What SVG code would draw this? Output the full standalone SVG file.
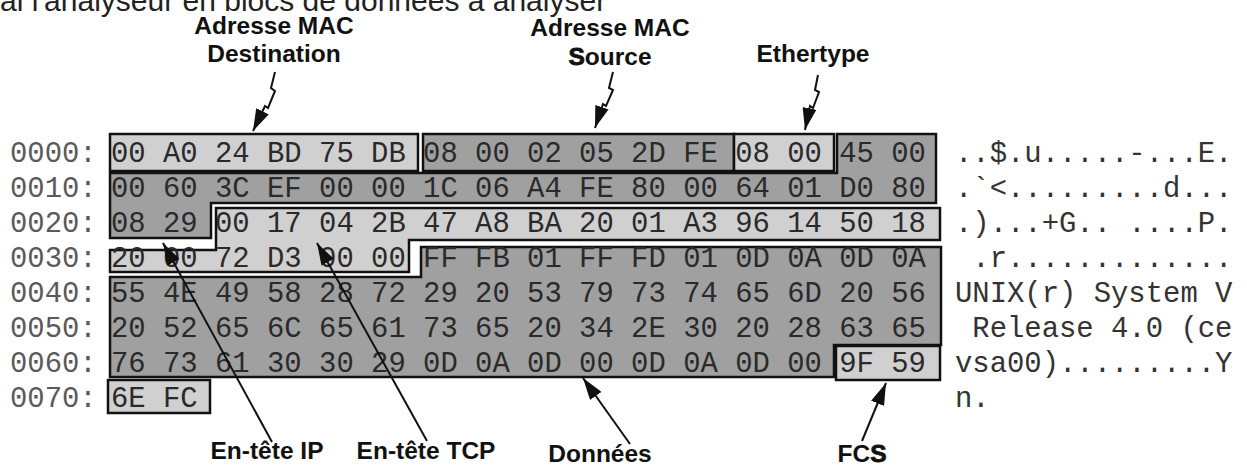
<svg xmlns="http://www.w3.org/2000/svg" width="1247" height="466" viewBox="0 0 1247 466">
<style>
.hex{font-family:"Liberation Mono","Courier New",monospace;font-size:28.9px;fill:#2a2a2a;white-space:pre}
.off{font-family:"Liberation Mono","Courier New",monospace;font-size:28.9px;fill:#5a5a5a;white-space:pre}
.asc{font-family:"Liberation Mono","Courier New",monospace;font-size:28.9px;fill:#333;white-space:pre}
.lbl{font-family:"Liberation Sans",Arial,sans-serif;font-size:24.5px;font-weight:bold;fill:#111;text-anchor:middle}
.lt{fill:#d0d0d0;stroke:#111;stroke-width:2.5}
.dk{fill:#a0a0a0;stroke:#111;stroke-width:2.5}
.arr{fill:none;stroke:#111;stroke-width:2;marker-end:url(#ah)}
</style>
<defs>
<marker id="ah" viewBox="0 0 22 14" refX="22" refY="7" markerWidth="22" markerHeight="14" markerUnits="userSpaceOnUse" orient="auto">
<path d="M0,0 L22,7 L0,14 Z" fill="#111"/>
</marker>
</defs>
<rect width="1247" height="466" fill="#fff"/>
<text x="0" y="11" style="font-family:'Liberation Sans',Arial,sans-serif;font-size:30px;fill:#222">al l'analyseur en blocs de données à analyser</text>

<g id="mac-dest">
<rect class="lt" x="110" y="134" width="308" height="37"/>
<text class="lbl" x="274" y="34">Adresse MAC</text>
<text class="lbl" x="274" y="62">Destination</text>
</g>
<g id="mac-source">
<rect class="dk" x="423" y="134" width="311" height="37"/>
<text class="lbl" x="610" y="36">Adresse MAC</text>
<text class="lbl" x="610" y="65"><tspan stroke="#111" stroke-width="0.8">S</tspan>ource</text>
</g>
<g id="ethertype">
<rect class="lt" x="734" y="134" width="100" height="37"/>
<text class="lbl" x="813" y="62">Ethertype</text>
</g>
<g id="ip-header">
<path class="dk" d="M837,134 L936,134 L936,203 L211,203 L211,238 L110,238 L110,173 L837,173 Z"/>
<text class="lbl" x="267" y="459">En-tête IP</text>
</g>
<g id="tcp-header">
<path class="lt" d="M216,208 L940,208 L940,240 L409,240 L409,272 L110,272 L110,250 L216,250 Z"/>
<text class="lbl" x="426" y="459">En-tête TCP</text>
</g>
<g id="data">
<path class="dk" d="M421,247 L941,247 L941,345 L834,345 L834,377 L110,377 L110,277 L421,277 Z"/>
<text class="lbl" x="600" y="462">Données</text>
</g>
<g id="fcs">
<rect class="lt" x="836" y="346" width="104" height="34"/>
<text class="lbl" x="862" y="462">FC<tspan stroke="#111" stroke-width="0.8">S</tspan></text>
</g>
<g id="tail">
<rect class="lt" x="108" y="380" width="102" height="33"/>
</g>

<g id="offsets">
<text class="off" x="10" y="161.5">0000:</text>
<text class="off" x="10" y="196.5">0010:</text>
<text class="off" x="10" y="231.5">0020:</text>
<text class="off" x="10" y="266.5">0030:</text>
<text class="off" x="10" y="301.5">0040:</text>
<text class="off" x="10" y="336.5">0050:</text>
<text class="off" x="10" y="371.5">0060:</text>
<text class="off" x="10" y="406.5">0070:</text>
</g>
<g id="hex">
<text class="hex" x="111" y="161.5">00 A0 24 BD 75 DB 08 00 02 05 2D FE 08 00 45 00</text>
<text class="hex" x="111" y="196.5">00 60 3C EF 00 00 1C 06 A4 FE 80 00 64 01 D0 80</text>
<text class="hex" x="111" y="231.5">08 29 00 17 04 2B 47 A8 BA 20 01 A3 96 14 50 18</text>
<text class="hex" x="111" y="266.5">20 00 72 D3 00 00 FF FB 01 FF FD 01 0D 0A 0D 0A</text>
<text class="hex" x="111" y="301.5">55 4E 49 58 28 72 29 20 53 79 73 74 65 6D 20 56</text>
<text class="hex" x="111" y="336.5">20 52 65 6C 65 61 73 65 20 34 2E 30 20 28 63 65</text>
<text class="hex" x="111" y="371.5">76 73 61 30 30 29 0D 0A 0D 00 0D 0A 0D 00 9F 59</text>
<text class="hex" x="111" y="406.5">6E FC</text>
</g>
<g id="ascii">
<text class="asc" x="955" y="161.5">..$.u.....-...E.</text>
<text class="asc" x="955" y="196.5">.`&lt;.........d...</text>
<text class="asc" x="955" y="231.5">.)...+G.. ....P.</text>
<text class="asc" x="955" y="266.5"> .r.............</text>
<text class="asc" x="955" y="301.5">UNIX(r) System V</text>
<text class="asc" x="955" y="336.5"> Release 4.0 (ce</text>
<text class="asc" x="955" y="371.5">vsa00).........Y</text>
<text class="asc" x="955" y="406.5">n.</text>
</g>

<g id="connectors">
<path class="arr" d="M275,72 L271,88 L275,91 L268,108 L265,106 L253,131"/>
<path class="arr" d="M613,72 L609,88 L613,90 L606,106 L603,104 L595,128"/>
<path class="arr" d="M818,75 L815,90 L819,92 L813,108 L810,106 L805,130"/>
<path class="arr" d="M272,442 L163,243"/>
<path class="arr" d="M427,441 L317,243"/>
<path class="arr" d="M630,444 L583,378"/>
<path class="arr" d="M862,441 L886,383"/>
</g>
</svg>
